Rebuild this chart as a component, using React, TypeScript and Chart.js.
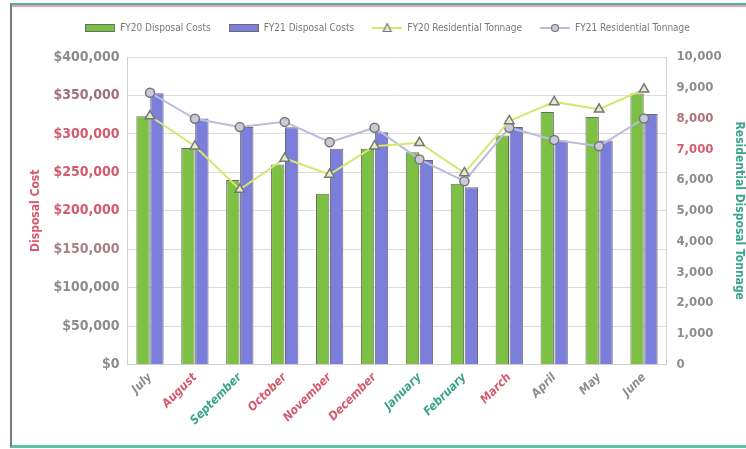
import React, { useEffect, useRef } from "react";
import { Chart, registerables } from "chart.js";

Chart.register(...registerables);

const months = ["July", "August", "September", "October", "November", "December", "January", "February", "March", "April", "May", "June"];
const fy20Cost = [323000, 281500, 240000, 260000, 222000, 280500, 276000, 235000, 298000, 328500, 322000, 352500];
const fy21Cost = [353000, 320000, 309000, 308500, 280500, 302000, 266000, 230500, 309000, 291500, 291500, 326000];
const fy20Tons = [8080, 7100, 5690, 6700, 6180, 7100, 7210, 6230, 7920, 8540, 8300, 8950];
const fy21Tons = [8840, 7990, 7720, 7890, 7230, 7700, 6670, 5960, 7700, 7300, 7100, 8000];
const seriesNames = ["FY20 Disposal Costs", "FY21 Disposal Costs", "FY20 Residential Tonnage", "FY21 Residential Tonnage"];

const RED = "#d65a6e";
const TEAL = "#3aa58a";
const GRAY = "#8c8c8c";
const monthColors = [GRAY, RED, TEAL, RED, RED, RED, TEAL, TEAL, RED, GRAY, GRAY, GRAY];
const leftTickColors = [GRAY, GRAY, GRAY, "#a98088", RED, RED, RED, "#a0707a", GRAY];
const rightTickColors = [GRAY, GRAY, GRAY, GRAY, GRAY, GRAY, GRAY, RED, "#b07078", GRAY, GRAY];

const FONT = "'DejaVu Sans Condensed', 'Liberation Sans Narrow', sans-serif";

const GREEN_FILL = "#7cc144";
const BLUE_FILL = "#7b7fdb";
const BAR_EDGE = "#6b6b6b";
const LINE20 = "#d8e56e";
const LINE21 = "#bcbcdc";

function barIcon(fill: string): HTMLCanvasElement {
  const c = document.createElement("canvas");
  c.width = 30;
  c.height = 8;
  const ctx = c.getContext("2d")!;
  ctx.fillStyle = fill;
  ctx.fillRect(0, 0, 30, 8);
  ctx.strokeStyle = BAR_EDGE;
  ctx.lineWidth = 1;
  ctx.strokeRect(0.5, 0.5, 29, 7);
  return c;
}

function lineIcon(color: string, marker: "triangle" | "circle", mFill: string): HTMLCanvasElement {
  const c = document.createElement("canvas");
  c.width = 30;
  c.height = 12;
  const ctx = c.getContext("2d")!;
  ctx.strokeStyle = color;
  ctx.lineWidth = 2;
  ctx.beginPath();
  ctx.moveTo(0, 6);
  ctx.lineTo(30, 6);
  ctx.stroke();
  ctx.fillStyle = mFill;
  ctx.strokeStyle = "#777";
  ctx.lineWidth = 1.2;
  ctx.beginPath();
  if (marker === "triangle") {
    ctx.moveTo(15, 1.5);
    ctx.lineTo(19, 9.5);
    ctx.lineTo(11, 9.5);
    ctx.closePath();
  } else {
    ctx.arc(15, 6, 3.5, 0, Math.PI * 2);
  }
  ctx.fill();
  ctx.stroke();
  return c;
}

const legendSpacer = {
  id: "legendSpacer",
  beforeInit(chart: any) {
    const lg = chart.legend;
    if (!lg) return;
    const orig = lg.fit;
    lg.fit = function () {
      orig.call(this);
      this.height += 14;
    };
  },
};

export default function App() {
  const ref = useRef<HTMLCanvasElement | null>(null);

  useEffect(() => {
    if (!ref.current) return;
    const icons = [
      barIcon(GREEN_FILL),
      barIcon(BLUE_FILL),
      lineIcon(LINE20, "triangle", "#e6ecc8"),
      lineIcon(LINE21, "circle", "#c9c9d9"),
    ];
    const chart = new Chart(ref.current, {
      type: "bar",
      plugins: [legendSpacer],
      data: {
        labels: months,
        datasets: [
          {
            type: "bar",
            label: seriesNames[0],
            data: fy20Cost,
            backgroundColor: GREEN_FILL,
            borderColor: BAR_EDGE,
            borderWidth: 1,
            yAxisID: "y",
            order: 1,
            barPercentage: 0.96,
            categoryPercentage: 0.62,
          },
          {
            type: "bar",
            label: seriesNames[1],
            data: fy21Cost,
            backgroundColor: BLUE_FILL,
            borderColor: BAR_EDGE,
            borderWidth: 1,
            yAxisID: "y",
            order: 1,
            barPercentage: 0.96,
            categoryPercentage: 0.62,
          },
          {
            type: "line",
            label: seriesNames[2],
            data: fy20Tons,
            borderColor: LINE20,
            borderWidth: 2,
            pointStyle: "triangle",
            pointRadius: 5.5,
            pointBackgroundColor: "#e6ecc8",
            pointBorderColor: "#777",
            pointBorderWidth: 1.5,
            yAxisID: "y1",
            order: 0,
            tension: 0,
          },
          {
            type: "line",
            label: seriesNames[3],
            data: fy21Tons,
            borderColor: LINE21,
            borderWidth: 2,
            pointStyle: "circle",
            pointRadius: 4.5,
            pointBackgroundColor: "#c9c9d9",
            pointBorderColor: "#777",
            pointBorderWidth: 1.5,
            yAxisID: "y1",
            order: 0,
            tension: 0,
          },
        ],
      },
      options: {
        animation: false,
        responsive: true,
        maintainAspectRatio: false,
        layout: { padding: { top: 2, left: 20, right: 0, bottom: 15 } },
        plugins: {
          tooltip: { enabled: false },
          legend: {
            position: "top",
            labels: {
              usePointStyle: true,
              pointStyleWidth: 30,
              boxHeight: 10,
              padding: 18,
              color: "#777",
              font: { family: FONT, size: 10 },
              generateLabels: (ch: any) =>
                ch.data.datasets.map((ds: any, i: number) => ({
                  text: ds.label,
                  fillStyle: "transparent",
                  strokeStyle: "transparent",
                  lineWidth: 0,
                  pointStyle: icons[i],
                  hidden: false,
                  datasetIndex: i,
                  fontColor: "#777",
                })),
            },
          },
        },
        scales: {
          x: {
            grid: { display: false, drawTicks: true, tickLength: 4 },
            border: { color: "#d0d0d0" },
            ticks: {
              minRotation: 45,
              maxRotation: 45,
              padding: 2,
              color: (ctx: any) => monthColors[ctx.index] || GRAY,
              font: { family: FONT, size: 12, weight: "bold", style: "italic" },
            },
          },
          y: {
            position: "left",
            min: 0,
            max: 400000,
            ticks: {
              stepSize: 50000,
              padding: 8,
              color: (ctx: any) => leftTickColors[ctx.index] || GRAY,
              font: { family: FONT, size: 14, weight: "bold" },
              callback: (v: any) => "$" + Number(v).toLocaleString("en-US"),
            },
            grid: { color: "#dcdcdc", drawTicks: false },
            border: { color: "#d0d0d0" },
            title: {
              display: true,
              text: "Disposal Cost",
              color: RED,
              font: { family: FONT, size: 12, weight: "bold" },
              padding: { top: 0, bottom: 2 },
            },
          },
          y1: {
            position: "right",
            min: 0,
            max: 10000,
            ticks: {
              stepSize: 1000,
              padding: 10,
              color: (ctx: any) => rightTickColors[ctx.index] || GRAY,
              font: { family: FONT, size: 13, weight: "bold" },
              callback: (v: any) => Number(v).toLocaleString("en-US"),
            },
            grid: { display: false, drawTicks: false },
            border: { color: "#d0d0d0" },
            title: {
              display: true,
              text: "Residential Disposal Tonnage",
              color: TEAL,
              font: { family: FONT, size: 12, weight: "bold" },
              padding: { top: 0, bottom: 0 },
            },
          },
        },
      },
    });
    return () => chart.destroy();
  }, []);

  return (
    <div>
      <div
        style={{
          position: "absolute",
          left: 10,
          top: 3,
          width: 734,
          height: 440,
          borderLeft: "2px solid #7a7a7a",
          borderTop: "2px solid #44b893",
          borderBottom: "3px solid #5cc2a2",
          boxShadow: "inset 0 2px 0 #eaa0b2",
          background: "#fff",
        }}
      />
      <div style={{ position: "absolute", left: 9, top: 3, width: 737, height: 442 }}>
        <canvas ref={ref} />
      </div>
    </div>
  );
}
